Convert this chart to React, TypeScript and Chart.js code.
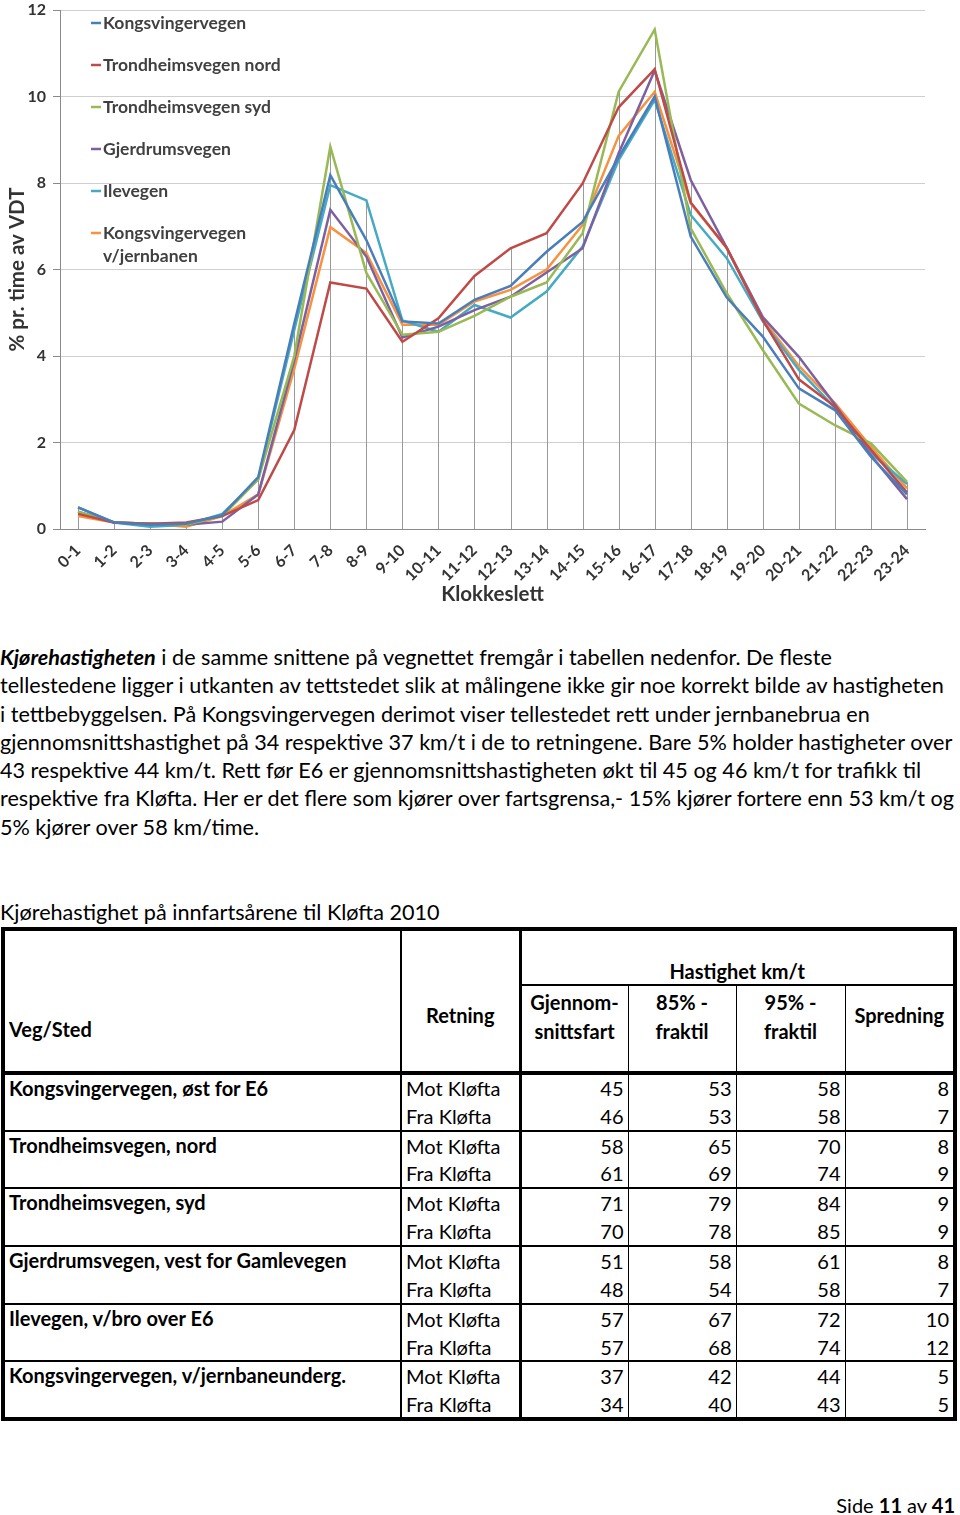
import React, { useEffect, useRef } from "react";
import { Chart, registerables } from "chart.js";

Chart.register(...registerables);

const HOURS = ["0-1", "1-2", "2-3", "3-4", "4-5", "5-6", "6-7", "7-8", "8-9", "9-10", "10-11", "11-12", "12-13", "13-14", "14-15", "15-16", "16-17", "17-18", "18-19", "19-20", "20-21", "21-22", "22-23", "23-24"];

const SERIES_NAMES = ["Kongsvingervegen", "Trondheimsvegen nord", "Trondheimsvegen syd", "Gjerdrumsvegen", "Ilevegen", "Kongsvingervegen v/jernbanen"];

const KONGSVINGERVEGEN = [0.5, 0.15, 0.1, 0.12, 0.32, 1.2, 4.75, 8.18, 6.68, 4.8, 4.75, 5.3, 5.62, 6.41, 7.1, 8.6, 10.0, 6.76, 5.35, 4.45, 3.25, 2.75, 1.67, 0.8];
const TRONDHEIMSVEGEN_NORD = [0.35, 0.15, 0.12, 0.15, 0.3, 0.67, 2.29, 5.7, 5.56, 4.33, 4.87, 5.85, 6.49, 6.84, 7.99, 9.75, 10.63, 7.55, 6.5, 4.83, 3.46, 2.83, 1.83, 0.84];
const TRONDHEIMSVEGEN_SYD = [0.4, 0.15, 0.12, 0.1, 0.3, 1.15, 4.0, 8.84, 5.92, 4.49, 4.56, 4.93, 5.37, 5.7, 6.84, 10.11, 11.55, 6.95, 5.45, 4.14, 2.9, 2.4, 1.98, 1.09];
const GJERDRUMSVEGEN = [0.4, 0.15, 0.12, 0.1, 0.17, 0.8, 3.9, 7.38, 6.3, 4.43, 4.68, 5.06, 5.37, 5.93, 6.49, 8.69, 10.6, 8.07, 6.5, 4.9, 3.98, 2.88, 1.7, 0.69];
const ILEVEGEN = [0.5, 0.15, 0.05, 0.1, 0.35, 1.15, 4.6, 7.95, 7.6, 4.82, 4.56, 5.18, 4.89, 5.49, 6.53, 8.53, 9.92, 7.26, 6.26, 4.8, 3.68, 2.8, 1.75, 1.04];
const KONGSVINGERVEGEN_JERNBANEN = [0.3, 0.15, 0.12, 0.05, 0.3, 0.8, 3.7, 6.98, 6.38, 4.72, 4.72, 5.26, 5.53, 6.0, 7.03, 9.09, 10.11, 7.53, 6.5, 4.85, 3.77, 2.91, 1.9, 0.94];

const SERIES_VALUES = [KONGSVINGERVEGEN, TRONDHEIMSVEGEN_NORD, TRONDHEIMSVEGEN_SYD, GJERDRUMSVEGEN, ILEVEGEN, KONGSVINGERVEGEN_JERNBANEN];
const SERIES_COLORS = ["#4A7EBB", "#BE4B48", "#98B954", "#7D60A0", "#46AAC5", "#F69240"];

const Y_TITLE = "% pr. time av VDT";
const X_TITLE = "Klokkeslett";

// Table data
const ROADS = ["Kongsvingervegen, øst for E6", "Trondheimsvegen, nord", "Trondheimsvegen, syd", "Gjerdrumsvegen, vest for Gamlevegen", "Ilevegen, v/bro over E6", "Kongsvingervegen, v/jernbaneunderg."];
const DIRECTIONS = ["Mot Kløfta", "Fra Kløfta"];
const MEAN_SPEED = [[45, 46], [58, 61], [71, 70], [51, 48], [57, 57], [37, 34]];
const P85 = [[53, 53], [65, 69], [79, 78], [58, 54], [67, 68], [42, 40]];
const P95 = [[58, 58], [70, 74], [84, 85], [61, 58], [72, 74], [44, 43]];
const SPREAD = [[8, 7], [8, 9], [9, 9], [8, 7], [10, 12], [5, 5]];

const FONT = "Lato, 'Open Sans', 'DejaVu Sans', sans-serif";

const dropLines = {
  id: "dropLines",
  beforeDatasetsDraw(chart: any) {
    const { ctx } = chart;
    const x = chart.scales.x;
    const y = chart.scales.y;
    const n = chart.data.labels.length;
    ctx.save();
    ctx.strokeStyle = "#9a9a9a";
    ctx.lineWidth = 1;
    for (let i = 0; i < n; i++) {
      let max = -Infinity;
      chart.data.datasets.forEach((ds: any) => {
        const v = ds.data[i];
        if (v > max) max = v;
      });
      const px = Math.round(x.getPixelForValue(i)) + 0.5;
      ctx.beginPath();
      ctx.moveTo(px, y.getPixelForValue(max));
      ctx.lineTo(px, y.bottom);
      ctx.stroke();
    }
    ctx.restore();
  },
};

const innerLegend = {
  id: "innerLegend",
  afterDraw(chart: any) {
    const { ctx, chartArea } = chart;
    const x0 = chartArea.left + 31;
    let yc = chartArea.top + 13;
    ctx.save();
    ctx.font = `bold 17.5px ${FONT}`;
    ctx.textBaseline = "middle";
    chart.data.datasets.forEach((ds: any) => {
      const words = String(ds.label).split(" ");
      const lines: string[] = [];
      let cur = "";
      words.forEach((w) => {
        const t = cur ? cur + " " + w : w;
        if (cur && ctx.measureText(t).width > 210) {
          lines.push(cur);
          cur = w;
        } else cur = t;
      });
      if (cur) lines.push(cur);
      ctx.strokeStyle = ds.borderColor;
      ctx.lineWidth = 2.5;
      ctx.beginPath();
      ctx.moveTo(x0, yc);
      ctx.lineTo(x0 + 10, yc);
      ctx.stroke();
      ctx.fillStyle = "#404040";
      lines.forEach((l, k) => ctx.fillText(l, x0 + 12, yc + k * 23));
      yc += 42;
    });
    ctx.restore();
  },
};

function LineChart() {
  const ref = useRef<HTMLCanvasElement>(null);
  useEffect(() => {
    let chart: any = null;
    let cancelled = false;
    const build = () => {
      if (cancelled || !ref.current) return;
      chart = new Chart(ref.current, {
        type: "line",
        data: {
          labels: HOURS,
          datasets: SERIES_NAMES.map((name, i) => ({
            label: name,
            data: SERIES_VALUES[i],
            borderColor: SERIES_COLORS[i],
            backgroundColor: SERIES_COLORS[i],
            borderWidth: 2.5,
            pointRadius: 0,
            tension: 0,
            fill: false,
          })),
        },
        options: {
          animation: false,
          responsive: false,
          layout: { padding: { top: 10, right: 35, left: 0, bottom: 0 } },
          plugins: { legend: { display: false }, tooltip: { enabled: false } },
          scales: {
            x: {
              offset: true,
              grid: { display: false },
              border: { display: true, color: "#8a8a8a", width: 1 },
              ticks: {
                autoSkip: false,
                minRotation: 45,
                maxRotation: 45,
                padding: 4,
                color: "#333",
                font: { family: FONT, size: 16, weight: "bold" },
              },
              title: {
                display: true,
                text: X_TITLE,
                color: "#333",
                padding: { top: 0, bottom: 5 },
                font: { family: FONT, size: 20.5, weight: "bold" },
              },
              afterFit: (s: any) => {
                s.height = 83;
              },
            },
            y: {
              min: 0,
              max: 12,
              ticks: {
                stepSize: 2,
                padding: 7,
                color: "#333",
                font: { family: FONT, size: 16, weight: "bold" },
              },
              grid: { color: "#cfcfcf", tickLength: 7, tickColor: "#8a8a8a" },
              border: { display: true, color: "#8a8a8a", width: 1 },
              title: {
                display: true,
                text: Y_TITLE,
                color: "#333",
                padding: { top: 5, bottom: 0 },
                font: { family: FONT, size: 20.5, weight: "bold" },
              },
              afterFit: (s: any) => {
                s.width = 60;
                s.paddingTop = 0;
                s.paddingBottom = 0;
              },
            },
          },
        },
        plugins: [dropLines, innerLegend],
      } as any);
    };
    const fonts: any = (document as any).fonts;
    if (fonts && fonts.load) {
      Promise.all([fonts.load(`bold 16px Lato`), fonts.load(`16px Lato`)])
        .catch(() => null)
        .then(() => build());
    } else build();
    return () => {
      cancelled = true;
      if (chart) chart.destroy();
    };
  }, []);
  return <canvas ref={ref} width={960} height={612} style={{ display: "block", width: 960, height: 612 }} />;
}

const PARA_LINES: React.ReactNode[] = [
  <>
    <b>
      <i>Kjørehastigheten</i>
    </b>{" "}
    i de samme snittene på vegnettet fremgår i tabellen nedenfor. De fleste
  </>,
  "tellestedene ligger i utkanten av tettstedet slik at målingene ikke gir noe korrekt bilde av hastigheten",
  "i tettbebyggelsen. På Kongsvingervegen derimot viser tellestedet rett under jernbanebrua en",
  "gjennomsnittshastighet på 34 respektive 37 km/t i de to retningene. Bare 5% holder hastigheter over",
  "43 respektive 44 km/t. Rett før E6 er gjennomsnittshastigheten økt til 45 og 46 km/t for trafikk til",
  "respektive fra Kløfta. Her er det flere som kjører over fartsgrensa,- 15% kjører fortere enn 53 km/t og",
  "5% kjører over 58 km/time.",
];

const B = "1px solid #000";
const B2 = "2px solid #000";
const B3 = "3px solid #000";

export default function App() {
  const cell: React.CSSProperties = { padding: "0 4px", whiteSpace: "nowrap", overflow: "hidden" };
  const num: React.CSSProperties = { ...cell, textAlign: "right", borderLeft: B, fontSize: 20 };
  return (
    <div
      style={{
        position: "absolute",
        left: 0,
        top: 0,
        width: 960,
        height: 1515,
        background: "#fff",
        fontFamily: FONT,
        color: "#000",
        overflow: "hidden",
      }}
    >
      <div style={{ position: "absolute", left: 0, top: 0 }}>
        <LineChart />
      </div>

      <div style={{ position: "absolute", left: 0, top: 643, fontSize: 21.6, lineHeight: "28.3px" }}>
        {PARA_LINES.map((l, i) => (
          <div key={i} style={{ whiteSpace: "nowrap" }}>
            {l}
          </div>
        ))}
      </div>

      <div style={{ position: "absolute", left: 0, top: 898, fontSize: 21.6, lineHeight: "28px", whiteSpace: "nowrap" }}>
        Kjørehastighet på innfartsårene til Kløfta 2010
      </div>

      <table
        style={{
          position: "absolute",
          left: 1,
          top: 927,
          width: 956,
          borderCollapse: "collapse",
          tableLayout: "fixed",
          border: "4px solid #000",
          fontSize: 20,
        }}
      >
        <colgroup>
          <col style={{ width: 398 }} />
          <col style={{ width: 119 }} />
          <col style={{ width: 108 }} />
          <col style={{ width: 108 }} />
          <col style={{ width: 109 }} />
          <col style={{ width: 110 }} />
        </colgroup>
        <thead>
          <tr style={{ height: 56 }}>
            <th rowSpan={2} style={{ ...cell, textAlign: "left", verticalAlign: "bottom", paddingBottom: 30, borderRight: B2, borderBottom: "4px solid #000" }}>
              Veg/Sted
            </th>
            <th rowSpan={2} style={{ ...cell, textAlign: "center", verticalAlign: "bottom", paddingBottom: 44, borderRight: B3, borderBottom: "4px solid #000" }}>
              Retning
            </th>
            <th colSpan={4} style={{ ...cell, textAlign: "center", verticalAlign: "bottom", paddingBottom: 1, borderBottom: B2 }}>
              Hastighet km/t
            </th>
          </tr>
          <tr style={{ height: 88 }}>
            <th style={{ ...cell, textAlign: "center", verticalAlign: "top", paddingTop: 2, lineHeight: "29px", borderBottom: "4px solid #000" }}>
              Gjennom-
              <br />
              snittsfart
            </th>
            <th style={{ ...cell, textAlign: "center", verticalAlign: "top", paddingTop: 2, lineHeight: "29px", borderLeft: B, borderBottom: "4px solid #000" }}>
              85% -
              <br />
              fraktil
            </th>
            <th style={{ ...cell, textAlign: "center", verticalAlign: "top", paddingTop: 2, lineHeight: "29px", borderLeft: B, borderBottom: "4px solid #000" }}>
              95% -
              <br />
              fraktil
            </th>
            <th style={{ ...cell, textAlign: "center", verticalAlign: "top", paddingTop: 17, borderLeft: B, borderBottom: "4px solid #000" }}>
              Spredning
            </th>
          </tr>
        </thead>
        <tbody>
          {ROADS.map((road, g) =>
            DIRECTIONS.map((dir, r) => (
              <tr key={`${g}-${r}`} style={{ height: 28.85, lineHeight: "26px" }}>
                {r === 0 && (
                  <td rowSpan={2} style={{ ...cell, fontWeight: "bold", verticalAlign: "top", borderRight: B2, borderTop: g === 0 ? "none" : B2 }}>
                    {road}
                  </td>
                )}
                <td style={{ ...cell, borderRight: B3, borderTop: r === 0 && g > 0 ? B2 : "none" }}>{dir}</td>
                <td style={{ ...num, borderLeft: "none", borderTop: r === 0 && g > 0 ? B2 : "none" }}>{MEAN_SPEED[g][r]}</td>
                <td style={{ ...num, borderTop: r === 0 && g > 0 ? B2 : "none" }}>{P85[g][r]}</td>
                <td style={{ ...num, borderTop: r === 0 && g > 0 ? B2 : "none" }}>{P95[g][r]}</td>
                <td style={{ ...num, borderTop: r === 0 && g > 0 ? B2 : "none" }}>{SPREAD[g][r]}</td>
              </tr>
            ))
          )}
        </tbody>
      </table>

      <div style={{ position: "absolute", right: 5, top: 1491, fontSize: 20, lineHeight: "28px", whiteSpace: "nowrap" }}>
        Side <b>11</b> av <b>41</b>
      </div>
    </div>
  );
}
